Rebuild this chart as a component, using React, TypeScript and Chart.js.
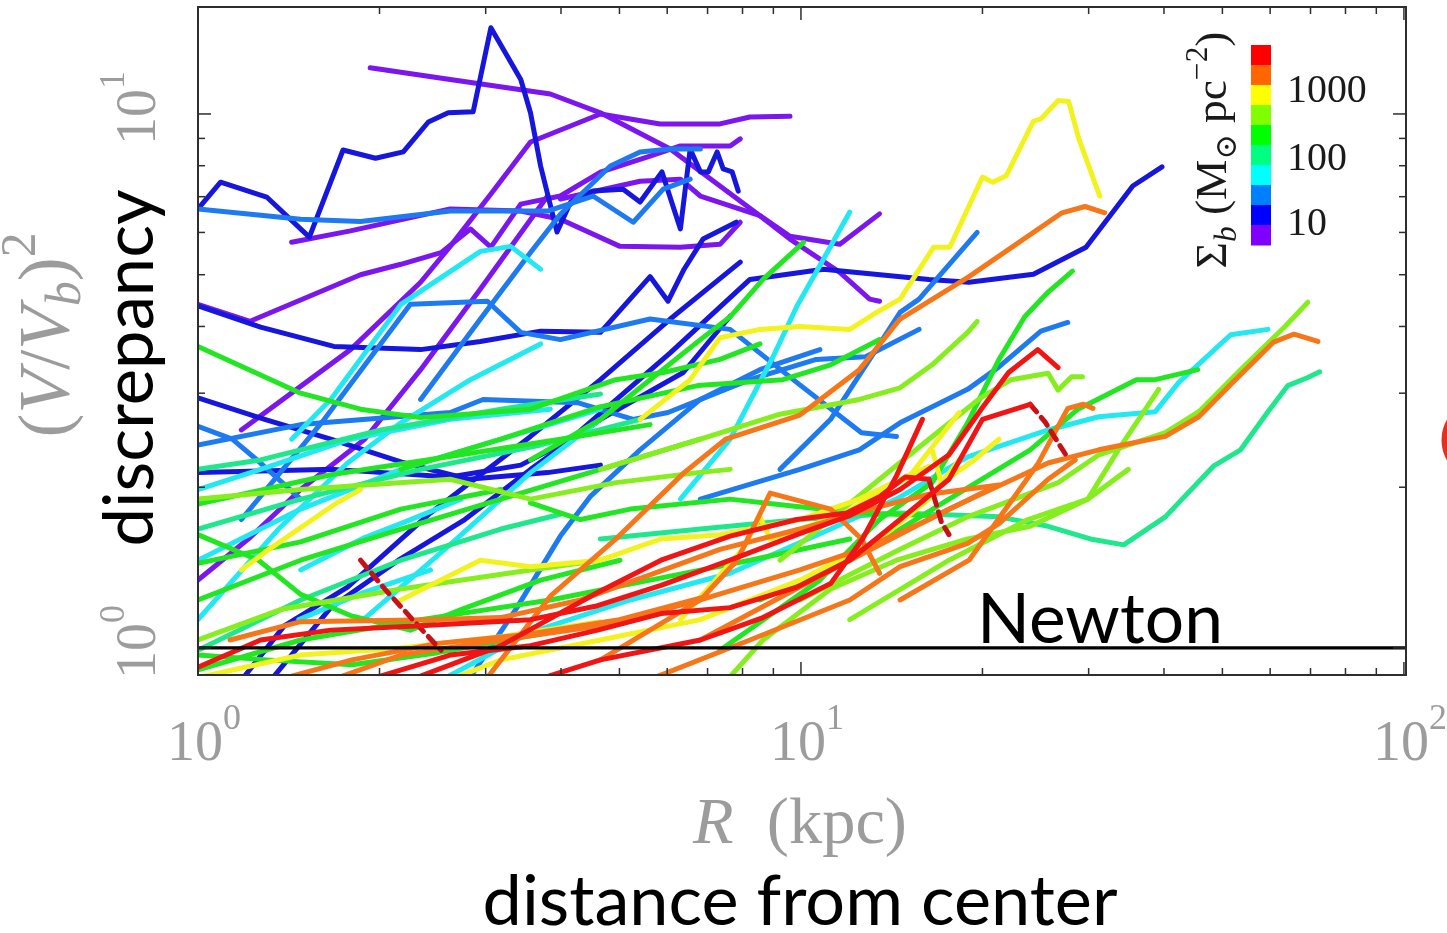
import React, { useEffect, useRef } from 'react';
import { Chart, registerables } from 'chart.js';

Chart.register(...registerables);

type P = [number, number];

// ---------- axes ----------
const X_MIN = 1;
const X_MAX = 100.8;
const Y_MIN = 0.89;
const Y_MAX = 15.86;
const X_MAJOR = [1, 10, 100];
const X_MINOR = [2, 3, 4, 5, 6, 7, 8, 9, 20, 30, 40, 50, 60, 70, 80, 90];
const Y_MAJOR = [1, 10];
const Y_MINOR = [2, 3, 4, 5, 6, 7, 8, 9];
const X_TICK_LABELS: [number, string][] = [[1, '0'], [10, '1'], [100, '2']];
const Y_TICK_LABELS: [number, string][] = [[1, '0'], [10, '1']];

// ---------- colour bar ----------
const CBAR_COLORS = ['#ff0000', '#ff6600', '#ffff00', '#80ff00', '#00ff00', '#00ff80', '#00ffff', '#0080ff', '#0000ff', '#8000ff'];
const CBAR_LABELS = ['1000', '100', '10'];

// ---------- line colours ----------
const RED = '#f01414';
const DRED = '#c81018';
const ORANGE = '#f6761a';
const YELLOW = '#f2f21e';
const YGREEN = '#86ee1e';
const GREEN = '#22e622';
const SPRING = '#1fe88c';
const CYAN = '#22e8f2';
const AZURE = '#1e7af0';
const BLUE = '#1616dc';
const VIOLET = '#7c16ee';

// ---------- data: [R (kpc), (V/Vb)^2] ----------
const NEWTON: P[] = [[1, 1], [100.8, 1]];

// violet
const gVLong: P[] = [[1.93, 12.2], [2.62, 11.6], [3.84, 10.9], [4.65, 10.05], [6.07, 8.6], [7.34, 7.33], [8.55, 6.45], [9.59, 5.9], [11.6, 5.7], [13.5, 6.5]];
const gVTop: P[] = [[1.18, 2.56], [1.79, 3.62], [2.34, 4.84], [2.62, 5.65], [3.06, 7.08], [3.56, 8.86], [4.65, 10.0], [5.84, 9.58], [7.34, 9.58], [8.23, 9.87], [9.59, 9.9]];
const gVArc: P[] = [[1.0, 4.4], [1.22, 4.09], [1.86, 5.0], [2.17, 5.23], [2.53, 5.5], [2.83, 6.09], [3.06, 5.63], [3.43, 6.78], [3.99, 7.02], [4.65, 7.78], [5.62, 8.34], [6.31, 8.71], [7.63, 8.71], [7.93, 8.98]];
const gVSmile: P[] = [[1.43, 5.75], [1.79, 6.04], [2.62, 6.64], [3.43, 6.58], [3.99, 6.35], [5.01, 5.65], [6.31, 5.63], [7.34, 5.7], [7.93, 6.27]];
const gVDrop: P[] = [[3.99, 6.93], [5.41, 7.48], [6.31, 7.55], [6.81, 7.02], [8.55, 6.45], [9.59, 5.83], [11.6, 5.05], [13.0, 4.5], [13.5, 4.46]];
const gVSteep: P[] = [[1.0, 1.34], [1.22, 1.61], [1.48, 1.98], [1.89, 2.46], [2.34, 3.32], [2.94, 4.7], [3.8, 7.02]];

// blue
const gBPeak: P[] = [[1.0, 6.64], [1.09, 7.45], [1.3, 6.99], [1.53, 5.88], [1.74, 8.56], [1.97, 8.26], [2.19, 8.49], [2.41, 9.66], [2.6, 10.05], [2.86, 10.1], [3.06, 14.5], [3.43, 11.6], [3.56, 10.05], [3.7, 7.99], [3.94, 6.01], [4.15, 6.84], [4.52, 7.17], [5.07, 7.23], [5.41, 6.84], [5.88, 7.79], [6.31, 6.09], [6.55, 8.6], [6.81, 7.79], [7.02, 7.79], [7.26, 8.49], [7.43, 7.89], [7.69, 7.79], [7.87, 7.17]];
const gBFlat: P[] = [[1.0, 4.37], [1.27, 3.99], [1.68, 3.67], [2.34, 3.62], [2.94, 3.75], [3.7, 3.92], [4.65, 3.9], [5.62, 4.96], [6.02, 4.46], [6.4, 5.12], [6.88, 5.83], [7.81, 6.27]];
const gB2: P[] = [[1.0, 2.94], [1.29, 2.68], [1.66, 2.46], [2.17, 2.23], [2.81, 2.07], [3.8, 2.13], [4.65, 2.2]];
const gBLong: P[] = [[1.0, 2.13], [1.68, 2.16], [2.62, 2.09], [3.43, 2.2], [4.15, 2.46], [6.07, 3.57], [8.23, 4.9], [10.9, 5.12], [16.3, 4.9], [19.0, 4.84], [24.3, 5.01], [29.7, 5.63], [35.5, 7.33], [39.7, 7.96]];
const gBS1: P[] = [[1.18, 0.87], [1.39, 1.1], [1.77, 1.3], [2.43, 1.79], [3.56, 2.49], [4.65, 3.18], [6.07, 4.13], [7.93, 5.28]];
const gBS2: P[] = [[1.32, 0.87], [1.66, 1.19], [2.15, 1.46], [2.77, 1.74], [3.56, 2.16], [4.65, 2.68], [6.38, 3.28], [7.63, 4.18]];

// azure
const gAzTop: P[] = [[1.0, 6.64], [1.48, 6.35], [1.86, 6.29], [2.62, 6.58], [3.8, 6.58], [4.52, 7.02], [5.27, 6.27], [5.91, 7.23], [6.55, 7.55]];
const gAzUp: P[] = [[2.34, 2.92], [2.94, 4.13], [3.56, 5.5], [3.99, 6.49], [4.83, 7.99], [5.41, 8.49], [6.07, 8.6], [6.81, 8.6]];
const gAzBox: P[] = [[1.18, 1.74], [1.62, 2.68], [2.25, 4.4], [3.02, 4.46], [3.43, 3.9], [3.99, 3.78], [5.62, 4.13], [7.63, 3.95], [9.85, 3.14], [12.6, 2.53], [14.4, 2.49]];
const gAzMid: P[] = [[1.0, 2.4], [1.48, 2.62], [2.62, 2.76], [2.97, 2.92], [4.26, 2.88], [5.27, 2.68], [6.02, 2.76], [8.23, 3.18], [10.6, 3.47], [12.8, 3.51], [15.7, 3.95]];
const gAzRight: P[] = [[6.81, 1.9], [9.96, 2.16], [12.5, 2.35], [14.6, 2.64], [18.9, 3.05], [21.3, 3.36], [25.0, 3.92], [27.7, 4.07]];
const gAzSteep2: P[] = [[9.23, 2.16], [11.2, 2.68], [13.0, 3.47], [14.6, 4.25], [15.7, 4.5], [19.6, 6.0]];
const gAzSteep: P[] = [[2.73, 0.83], [3.38, 1.19], [3.99, 1.62], [4.47, 1.92], [5.41, 2.35], [6.81, 2.92], [8.55, 3.32], [10.75, 3.62]];
const gAzShort: P[] = [[1.0, 2.6], [1.14, 2.46], [1.27, 2.22], [1.48, 1.9]];

// cyan
const gCTop: P[] = [[1.43, 2.46], [1.66, 2.92], [2.17, 4.4], [2.94, 5.53], [3.3, 5.65], [3.7, 5.12]];
const gCRight: P[] = [[2.34, 0.83], [3.56, 1.07], [5.21, 1.23], [7.63, 1.38], [11.2, 1.67], [14.4, 1.9], [18.9, 2.28], [25.7, 2.56], [31.2, 2.71], [38.7, 2.77], [42.3, 3.14], [51.6, 3.86], [59.5, 3.95]];
const gCSteep: P[] = [[6.31, 1.9], [7.63, 2.46], [8.99, 3.51], [9.85, 4.37], [10.9, 5.35], [12.05, 6.55]];
const gC1: P[] = [[1.0, 1.13], [1.36, 1.67], [1.77, 2.22], [2.17, 2.64], [2.83, 3.18], [3.7, 3.71]];
const gC2: P[] = [[1.0, 1.46], [1.48, 1.82], [2.17, 2.16], [3.18, 2.46], [4.65, 2.8]];
const gC3: P[] = [[1.0, 1.98], [1.27, 2.16], [1.79, 2.46], [2.62, 2.68], [3.84, 2.8]];
const gC4: P[] = [[1.48, 1.4], [1.89, 1.61], [2.2, 1.72], [2.73, 1.9]];
const gC5: P[] = [[1.47, 1.13], [1.88, 1.27], [2.43, 1.4]];
const gC6: P[] = [[1.88, 1.13], [2.6, 1.55], [3.56, 2.13], [4.65, 2.68]];

// spring green
const gSRight: P[] = [[4.65, 1.6], [6.81, 1.67], [9.96, 1.74], [14.6, 1.79], [21.3, 1.76], [25.7, 1.69], [30.2, 1.6], [34.3, 1.56], [40.2, 1.76], [48.3, 2.19], [53.6, 2.35], [59.5, 2.77], [64.2, 3.1], [69.3, 3.21], [72.5, 3.29]];
const gS1: P[] = [[1.0, 1.67], [1.48, 1.9], [2.34, 2.16], [3.7, 2.4], [5.41, 2.68]];
const gS2: P[] = [[1.0, 0.99], [1.48, 1.23], [2.17, 1.46], [3.18, 1.67], [3.99, 1.78]];
const gS3: P[] = [[1.0, 2.16], [1.27, 2.25], [2.01, 2.56], [3.18, 2.8], [4.65, 2.99]];

// green
const gGRight1: P[] = [[7.34, 0.99], [10.75, 1.34], [13.5, 1.74], [16.5, 2.04], [18.9, 2.64], [21.3, 3.47], [23.5, 4.17], [25.7, 4.64], [28.2, 5.08]];
const gGRight2: P[] = [[8.55, 1.23], [12.05, 1.46], [17.6, 1.9], [24.0, 2.35], [28.8, 2.8], [36.0, 3.18], [38.7, 3.18], [45.5, 3.32]];
const gGUp: P[] = [[3.56, 2.25], [4.65, 2.68], [5.62, 3.18], [6.81, 3.78], [7.63, 4.17], [8.65, 4.9], [10.1, 5.75]];
const gGMid: P[] = [[2.17, 2.16], [3.18, 2.46], [4.6, 2.82], [6.74, 3.1], [9.33, 3.18], [11.2, 3.39], [13.5, 3.78]];
const gG1: P[] = [[1.0, 3.67], [1.48, 3.0], [1.86, 2.8], [2.34, 2.7], [3.56, 2.8], [4.93, 3.18], [5.91, 3.28], [7.34, 3.47], [8.55, 3.71]];
const gGDown: P[] = [[1.0, 1.63], [1.26, 1.46], [1.48, 1.26], [1.79, 1.15], [2.25, 1.08], [2.73, 1.18], [3.7, 1.34], [5.01, 1.46]];
const gGLong: P[] = [[3.56, 1.87], [4.31, 1.74], [5.21, 1.82], [7.63, 1.9], [9.85, 1.84], [12.6, 1.79], [16.3, 1.77]];
const gG4: P[] = [[1.0, 1.86], [1.66, 2.11], [2.73, 2.3], [3.99, 2.46], [5.62, 2.62]];
const gG8: P[] = [[1.0, 1.23], [1.48, 1.46], [2.17, 1.67], [3.18, 1.9], [4.65, 2.16], [6.81, 2.46]];
const gG11: P[] = [[1.0, 0.91], [1.48, 1.035], [2.34, 1.13], [3.84, 1.23], [5.62, 1.34], [8.23, 1.46], [12.05, 1.6]];
const gG15: P[] = [[1.0, 1.44], [1.48, 1.58], [2.17, 1.82], [3.18, 1.98]];
const gG16: P[] = [[1.0, 0.97], [1.3, 0.95], [1.8, 0.93], [2.5, 0.98], [3.5, 1.05], [4.8, 1.12]];

// yellow-green
const gYgZig: P[] = [[9.23, 1.46], [13.5, 2.07], [16.3, 2.46], [19.7, 2.92], [22.3, 3.18], [25.7, 3.27], [26.7, 3.04], [28.1, 3.22], [29.3, 3.22]];
const gYg1: P[] = [[7.26, 0.83], [8.65, 1.035], [11.2, 1.29], [14.4, 1.46], [18.9, 1.6], [24.0, 1.69], [29.9, 1.9], [34.9, 2.16]];
const gYg2: P[] = [[1.0, 1.9], [1.48, 1.98], [2.62, 2.07], [3.56, 1.9], [4.93, 2.04], [6.74, 2.13], [7.63, 2.16]];
const gYgUp: P[] = [[4.65, 2.16], [6.81, 2.46], [9.23, 2.74], [12.5, 2.92], [14.6, 3.07], [16.5, 3.39], [18.9, 3.9], [19.6, 4.09]];
const gYg3: P[] = [[12.05, 1.13], [17.6, 1.46], [23.8, 1.74], [29.9, 1.9], [33.6, 2.35], [39.2, 3.05]];
const gYgRight: P[] = [[9.96, 1.23], [14.6, 1.53], [18.9, 1.76], [26.7, 2.04], [31.2, 2.3], [40.2, 2.53], [45.7, 2.77], [53.6, 3.32], [63.5, 4.0], [69.3, 4.44]];
const gYg10: P[] = [[1.0, 1.035], [1.37, 1.18], [2.17, 1.29], [3.56, 1.4], [4.65, 1.46]];

// yellow
const gYPeak: P[] = [[5.41, 2.68], [6.55, 3.18], [7.34, 3.81], [8.55, 3.95], [9.96, 4.0], [12.05, 3.95], [13.35, 4.25], [14.6, 4.5], [16.6, 5.63], [17.65, 5.63], [20.0, 7.62], [20.8, 7.45], [21.9, 7.66], [24.3, 9.7], [25.0, 9.79], [26.7, 10.6], [27.8, 10.55], [28.9, 8.98], [31.3, 7.02]];
const gY1: P[] = [[1.18, 1.4], [1.29, 1.51], [1.7, 1.87], [1.86, 1.98]];
const gY2: P[] = [[2.17, 1.23], [2.94, 1.46], [3.56, 1.42], [4.65, 1.46], [5.86, 1.6], [7.34, 1.63], [9.96, 1.74], [12.5, 1.9], [14.6, 2.07], [16.3, 2.19]];
const gY3: P[] = [[6.31, 1.13], [8.0, 1.53], [8.55, 1.76], [8.89, 1.6], [11.6, 1.77], [15.1, 2.09], [18.3, 2.76]];
const gY3b: P[] = [[16.5, 2.35], [17.1, 2.04], [19.2, 2.23], [21.3, 2.46]];
const gYLow: P[] = [[2.34, 0.83], [3.18, 0.95], [4.65, 1.035], [6.81, 1.13], [9.96, 1.34], [13.5, 1.6], [16.3, 1.9], [18.3, 2.25]];
const gYLow2: P[] = [[1.0, 0.88], [1.48, 0.97], [2.17, 1.0], [3.18, 1.05], [4.65, 1.12]];

// orange
const gOTop: P[] = [[2.9, 0.83], [3.84, 1.25], [4.96, 1.61], [6.4, 2.13], [7.5, 2.46], [9.96, 2.73], [12.5, 3.32], [14.6, 4.13], [19.0, 4.96], [27.1, 6.53], [29.6, 6.71], [31.9, 6.53]];
const gO1: P[] = [[1.13, 1.035], [1.48, 1.12], [2.43, 1.13], [3.18, 1.14], [4.31, 1.23], [5.62, 1.37], [7.34, 1.53], [9.96, 1.67], [13.0, 1.82], [16.3, 1.94], [21.3, 2.02]];
const gO2: P[] = [[1.48, 0.83], [2.17, 0.97], [3.18, 1.035], [4.65, 1.1], [6.81, 1.23], [9.96, 1.4], [13.0, 1.55], [16.3, 1.74], [20.5, 1.98]];
const gO3: P[] = [[1.3, 0.86], [1.8, 0.95], [2.5, 1.02], [3.5, 1.06], [5.0, 1.13], [7.0, 1.25]];
const gOMid: P[] = [[4.65, 0.95], [6.81, 1.23], [7.84, 1.46], [8.89, 1.95], [11.2, 1.82], [12.6, 1.6], [13.5, 1.38]];
const gORight: P[] = [[6.81, 1.035], [12.05, 1.46], [17.6, 1.82], [25.7, 2.22], [31.2, 2.35], [40.2, 2.49], [45.7, 2.71], [52.0, 3.14], [60.8, 3.74], [65.7, 3.87], [72.0, 3.75]];
const gOLow: P[] = [[5.01, 0.83], [8.23, 1.035], [12.05, 1.23], [14.6, 1.42], [18.9, 1.57], [21.3, 1.71], [25.7, 2.07], [28.5, 2.25]];
const gOHook: P[] = [[14.6, 1.23], [19.0, 1.46], [24.7, 2.21], [27.7, 2.81], [29.4, 2.86], [30.5, 2.81]];

// red
const gR1: P[] = [[1.0, 0.92], [1.27, 1.035], [1.66, 1.08], [2.34, 1.1], [3.56, 1.13], [4.6, 1.2], [5.86, 1.31], [7.63, 1.46], [9.85, 1.63], [12.05, 1.77], [14.6, 1.98], [17.6, 2.3], [20.0, 2.82], [22.1, 3.28], [24.7, 3.62], [26.7, 3.35]];
const gR2: P[] = [[1.66, 0.83], [2.62, 0.97], [3.56, 1.01], [4.6, 1.08], [5.86, 1.16], [7.63, 1.19], [9.85, 1.3], [12.05, 1.46], [14.6, 1.74], [17.6, 2.07], [20.0, 2.68], [24.0, 2.86]];
const gR2tail: P[] = [[24.0, 2.86], [25.4, 2.65], [27.7, 2.27]];
const gR3: P[] = [[3.18, 0.83], [4.65, 0.95], [6.81, 1.035], [8.65, 1.14], [11.2, 1.32], [12.65, 1.6], [14.4, 2.1], [15.9, 2.68]];
const gR4: P[] = [[2.01, 0.83], [3.18, 1.01], [4.6, 1.27], [5.86, 1.46], [7.63, 1.62], [9.85, 1.74], [11.9, 1.79], [13.5, 1.92], [14.9, 2.09], [16.3, 2.07]];
const gR4tail: P[] = [[16.3, 2.07], [17.1, 1.72], [17.6, 1.63]];
const gRDash: P[] = [[1.86, 1.46], [2.04, 1.29], [2.32, 1.1], [2.53, 0.99]];

type Series = { pts: P[]; color: string; dash?: boolean; width?: number };

// first entry is drawn on top
const SERIES: Series[] = [
  { pts: NEWTON, color: '#000000', width: 3.2 },
  { pts: gR1, color: RED }, { pts: gR2, color: RED }, { pts: gR2tail, color: DRED, dash: true },
  { pts: gR3, color: RED }, { pts: gR4, color: RED }, { pts: gR4tail, color: DRED, dash: true },
  { pts: gRDash, color: DRED, dash: true },
  { pts: gOTop, color: ORANGE }, { pts: gO1, color: ORANGE }, { pts: gO2, color: ORANGE }, { pts: gO3, color: ORANGE },
  { pts: gOMid, color: ORANGE }, { pts: gORight, color: ORANGE }, { pts: gOLow, color: ORANGE }, { pts: gOHook, color: ORANGE },
  { pts: gYPeak, color: YELLOW }, { pts: gY1, color: YELLOW }, { pts: gY2, color: YELLOW },
  { pts: gY3, color: YELLOW }, { pts: gY3b, color: YELLOW }, { pts: gYLow, color: YELLOW }, { pts: gYLow2, color: YELLOW },
  { pts: gYgZig, color: YGREEN }, { pts: gYg1, color: YGREEN }, { pts: gYg2, color: YGREEN }, { pts: gYgUp, color: YGREEN },
  { pts: gYg3, color: YGREEN }, { pts: gYgRight, color: YGREEN }, { pts: gYg10, color: YGREEN },
  { pts: gGRight1, color: GREEN }, { pts: gGRight2, color: GREEN }, { pts: gGUp, color: GREEN }, { pts: gGMid, color: GREEN },
  { pts: gG1, color: GREEN }, { pts: gGDown, color: GREEN }, { pts: gGLong, color: GREEN }, { pts: gG4, color: GREEN },
  { pts: gG8, color: GREEN }, { pts: gG11, color: GREEN }, { pts: gG15, color: GREEN }, { pts: gG16, color: GREEN },
  { pts: gSRight, color: SPRING }, { pts: gS1, color: SPRING }, { pts: gS2, color: SPRING }, { pts: gS3, color: SPRING },
  { pts: gCTop, color: CYAN }, { pts: gCRight, color: CYAN }, { pts: gCSteep, color: CYAN }, { pts: gC1, color: CYAN },
  { pts: gC2, color: CYAN }, { pts: gC3, color: CYAN }, { pts: gC4, color: CYAN }, { pts: gC5, color: CYAN }, { pts: gC6, color: CYAN },
  { pts: gAzTop, color: AZURE }, { pts: gAzUp, color: AZURE }, { pts: gAzBox, color: AZURE }, { pts: gAzMid, color: AZURE },
  { pts: gAzRight, color: AZURE }, { pts: gAzSteep2, color: AZURE }, { pts: gAzSteep, color: AZURE }, { pts: gAzShort, color: AZURE },
  { pts: gBPeak, color: BLUE }, { pts: gBFlat, color: BLUE }, { pts: gB2, color: BLUE }, { pts: gBLong, color: BLUE },
  { pts: gBS1, color: BLUE }, { pts: gBS2, color: BLUE },
  { pts: gVLong, color: VIOLET }, { pts: gVTop, color: VIOLET }, { pts: gVArc, color: VIOLET },
  { pts: gVSmile, color: VIOLET }, { pts: gVDrop, color: VIOLET }, { pts: gVSteep, color: VIOLET },
];

// ---------- text helpers ----------
const SERIF = '"Liberation Serif", "DejaVu Serif", serif';
const SANS = 'Lato, "Open Sans", sans-serif';

type Part = { t: string; size: number; dy?: number; italic?: boolean; family?: string };

function setFont(ctx: CanvasRenderingContext2D, p: Part, k: number) {
  ctx.font = `${p.italic ? 'italic ' : ''}${(p.size * k).toFixed(2)}px ${p.family ?? SERIF}`;
}
function measureParts(ctx: CanvasRenderingContext2D, parts: Part[], k: number) {
  let w = 0;
  for (const p of parts) { setFont(ctx, p, k); w += ctx.measureText(p.t).width; }
  return w;
}
function drawParts(ctx: CanvasRenderingContext2D, parts: Part[], x: number, y: number, align: 'left' | 'center', k = 1) {
  const w = measureParts(ctx, parts, k);
  let cx = align === 'center' ? x - w / 2 : x;
  ctx.textAlign = 'left';
  ctx.textBaseline = 'alphabetic';
  for (const p of parts) {
    setFont(ctx, p, k);
    ctx.fillText(p.t, cx, y + (p.dy ?? 0) * k);
    cx += ctx.measureText(p.t).width;
  }
}
function fit(ctx: CanvasRenderingContext2D, parts: Part[], target: number) {
  return target / measureParts(ctx, parts, 1);
}

const overlay = {
  id: 'overlay',
  afterDatasetsDraw(chart: any) {
    const { ctx, chartArea: a, scales } = chart;
    const xs = scales.x;
    const ys = scales.y;
    ctx.save();

    // frame
    ctx.strokeStyle = '#2e2e2e';
    ctx.lineWidth = 2;
    ctx.strokeRect(a.left, a.top, a.right - a.left, a.bottom - a.top);

    // inward ticks
    ctx.lineWidth = 1.5;
    const seg = (x1: number, y1: number, x2: number, y2: number) => {
      ctx.beginPath(); ctx.moveTo(x1, y1); ctx.lineTo(x2, y2); ctx.stroke();
    };
    for (const v of [...X_MAJOR, ...X_MINOR]) {
      const px = xs.getPixelForValue(v);
      const L = X_MAJOR.includes(v) ? 13 : 7;
      seg(px, a.bottom, px, a.bottom - L);
      seg(px, a.top, px, a.top + L);
    }
    for (const v of [...Y_MAJOR, ...Y_MINOR]) {
      const py = ys.getPixelForValue(v);
      const L = Y_MAJOR.includes(v) ? 13 : 7;
      seg(a.left, py, a.left + L, py);
      seg(a.right, py, a.right - L, py);
    }

    // tick labels
    ctx.fillStyle = '#9c9c9c';
    for (const [v, e] of X_TICK_LABELS) {
      const px = xs.getPixelForValue(v);
      drawParts(ctx, [{ t: '10', size: 56 }, { t: e, size: 36, dy: -31 }], px + 6, 760, 'center');
    }
    for (const [v, e] of Y_TICK_LABELS) {
      const py = ys.getPixelForValue(v);
      ctx.save();
      ctx.translate(155, py - 6);
      ctx.rotate(-Math.PI / 2);
      drawParts(ctx, [{ t: '10', size: 56 }, { t: e, size: 36, dy: -31 }], 0, 0, 'center');
      ctx.restore();
    }

    // axis titles (grey serif)
    const xt: Part[] = [{ t: 'R', size: 50, italic: true }, { t: '  (kpc)', size: 50 }];
    drawParts(ctx, xt, 800, 843, 'center', fit(ctx, xt, 214));
    const yt: Part[] = [
      { t: '(', size: 52 }, { t: 'V', size: 52, italic: true }, { t: '/', size: 52 }, { t: 'V', size: 52, italic: true },
      { t: 'b', size: 36, italic: true, dy: 9 }, { t: ')', size: 52 }, { t: '2', size: 36, dy: -24 },
    ];
    ctx.save();
    ctx.translate(68, 335);
    ctx.rotate(-Math.PI / 2);
    drawParts(ctx, yt, 0, 0, 'center', fit(ctx, yt, 205));
    ctx.restore();

    // black sans annotations
    ctx.fillStyle = '#000000';
    const dc: Part[] = [{ t: 'distance from center', size: 66, family: SANS }];
    drawParts(ctx, dc, 800, 925, 'center', fit(ctx, dc, 635));
    const ds: Part[] = [{ t: 'discrepancy', size: 66, family: SANS }];
    ctx.save();
    ctx.translate(153, 368);
    ctx.rotate(-Math.PI / 2);
    drawParts(ctx, ds, 0, 0, 'center', fit(ctx, ds, 357));
    ctx.restore();
    const nw: Part[] = [{ t: 'Newton', size: 64, family: SANS }];
    drawParts(ctx, nw, 977, 643, 'left', fit(ctx, nw, 246));

    // colour bar
    const cbTop = 45, cbH = 20, cbX = 1251, cbW = 20;
    CBAR_COLORS.forEach((c, i) => {
      ctx.fillStyle = c;
      ctx.fillRect(cbX, cbTop + i * cbH, cbW, cbH + 0.5);
    });
    ctx.fillStyle = '#1a1a1a';
    const cbBase = [102, 170, 235];
    CBAR_LABELS.forEach((s, i) => {
      const pl: Part[] = [{ t: s, size: 38 }];
      drawParts(ctx, pl, 1287, cbBase[i], 'left', 1.05);
    });
    const ct: Part[] = [
      { t: 'Σ', size: 36 }, { t: 'b', size: 25, italic: true, dy: 8 }, { t: ' (M', size: 36 },
      { t: '⊙', size: 24, dy: 8 }, { t: ' pc', size: 36 }, { t: '−2', size: 25, dy: -15 }, { t: ')', size: 36 },
    ];
    ctx.save();
    ctx.translate(1226, 150);
    ctx.rotate(-Math.PI / 2);
    drawParts(ctx, ct, 0, 0, 'center', fit(ctx, ct, 237));
    ctx.restore();

    // partial red mark at right edge
    ctx.strokeStyle = '#e0321e';
    ctx.lineWidth = 7;
    ctx.beginPath();
    ctx.arc(1482, 440, 37, Math.PI * 0.82, Math.PI * 1.18);
    ctx.stroke();

    ctx.restore();
  },
};

export default function App() {
  const ref = useRef<HTMLCanvasElement>(null);
  useEffect(() => {
    const canvas = ref.current;
    if (!canvas) return;
    const datasets = SERIES.map((s) => ({
      data: s.pts.map(([x, y]) => ({ x, y })),
      borderColor: s.color,
      backgroundColor: s.color,
      borderWidth: s.width ?? 5,
      borderDash: s.dash ? [10, 7] : [],
      pointRadius: 0,
      pointHoverRadius: 0,
      fill: false,
      tension: 0,
      clip: 0,
      borderJoinStyle: 'round' as const,
      borderCapStyle: 'round' as const,
    }));
    const chart = new Chart(canvas, {
      type: 'line',
      data: { datasets },
      options: {
        responsive: false,
        animation: false,
        devicePixelRatio: 1,
        layout: { padding: { left: 198, right: 41, top: 7, bottom: 258 } },
        scales: {
          x: { type: 'logarithmic', min: X_MIN, max: X_MAX, display: false },
          y: { type: 'logarithmic', min: Y_MIN, max: Y_MAX, display: false },
        },
        plugins: { legend: { display: false }, tooltip: { enabled: false } },
        events: [],
      },
      plugins: [overlay],
    } as any);
    return () => chart.destroy();
  }, []);
  return (
    <div style={{ position: 'fixed', left: 0, top: 0, width: 1447, height: 933, background: '#ffffff' }}>
      <canvas ref={ref} width={1447} height={933} style={{ display: 'block', width: 1447, height: 933 }} />
    </div>
  );
}
